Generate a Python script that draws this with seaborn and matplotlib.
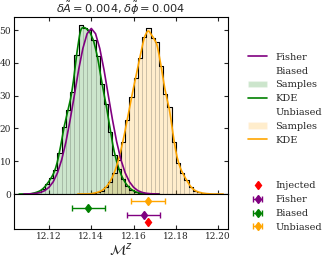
import matplotlib
matplotlib.use("Agg")
import matplotlib.pyplot as plt
import numpy as np
import pandas as pd
import seaborn as sns
from matplotlib.lines import Line2D
from matplotlib.patches import Patch, Rectangle

# histogram bins (width 0.002), heights are densities
bin_width = 0.002
biased_centers = np.round(12.113 + bin_width * np.arange(27), 3)
biased_heights = [0.3, 0.7, 1.4, 3.0, 4.8, 7.2, 12.5, 20.5, 25.5, 31.0,
                  42.5, 51.5, 50.5, 50.0, 47.0, 42.0, 33.5, 27.5, 19.0, 12.0,
                  7.5, 4.5, 2.5, 1.3, 0.6, 0.3, 0.1]
unbiased_centers = np.round(12.141 + bin_width * np.arange(28), 3)
unbiased_heights = [0.2, 0.5, 1.0, 2.0, 3.8, 6.5, 10.5, 16.0, 22.5, 29.5,
                    35.5, 41.5, 48.0, 50.5, 47.5, 46.5, 39.0, 30.5, 26.5, 16.0,
                    9.5, 6.5, 4.3, 2.1, 1.0, 0.5, 0.2, 0.1]

# Fisher approximation curve
fisher_x = np.round(12.108 + 0.002 * np.arange(33), 3)
fisher_y = [0.01, 0.04, 0.10, 0.23, 0.50, 1.04, 2.06, 3.76, 6.48, 10.5,
            15.9, 22.7, 30.2, 37.9, 44.4, 48.9, 50.5, 48.9, 44.4, 37.9,
            30.2, 22.7, 15.9, 10.5, 6.48, 3.76, 2.06, 1.04, 0.50, 0.23,
            0.10, 0.04, 0.01]

# point estimates with 1-sigma errors
point_labels = ["Injected", "Fisher", "Biased", "Unbiased"]
point_x = [12.167, 12.1647, 12.1386, 12.1669]
point_err = [None, 0.0080, 0.0079, 0.0079]
point_row = [1, 2, 3, 4]
point_colors = ["red", "purple", "green", "orange"]

sns.set_style("ticks", {"xtick.direction": "in", "ytick.direction": "in"})
plt.rcParams["font.family"] = ["DejaVu Serif"]

fig = plt.figure(figsize=(3.32, 2.57), dpi=100)
ax = fig.add_axes([0.042, 0.245, 0.645, 0.689])
ax2 = fig.add_axes([0.042, 0.109, 0.645, 0.136], sharex=ax)

for centers, heights, col in [(biased_centers, biased_heights, "green"),
                              (unbiased_centers, unbiased_heights, "orange")]:
    df = pd.DataFrame({"x": centers, "w": heights})
    lo = float(centers[0] - bin_width / 2)
    hi = float(centers[-1] + bin_width / 2)
    sns.histplot(data=df, x="x", weights="w", binwidth=bin_width,
                 binrange=(lo, hi), stat="count", color=col, alpha=0.2,
                 linewidth=0.5, ax=ax)
    sns.histplot(data=df, x="x", weights="w", binwidth=bin_width,
                 binrange=(lo, hi), stat="count", element="step", fill=False,
                 color=(0, 0, 0, 0.45), linewidth=0.8, ax=ax)
    sns.kdeplot(data=df, x="x", weights="w", bw_method=0.15, color=col,
                linewidth=1.2, ax=ax)

# soften the inner bar edges
for p in ax.patches:
    if isinstance(p, Rectangle):
        fc = p.get_facecolor()
        p.set_alpha(None)
        p.set_facecolor((fc[0], fc[1], fc[2], 0.2))
        p.set_edgecolor((0.3, 0.3, 0.3, 0.22))
        p.set_linewidth(0.5)

sns.lineplot(x=fisher_x, y=fisher_y, color="purple", linewidth=1.2, ax=ax)

ax.set_xlim(12.1034, 12.2047)
ax.set_ylim(0, 54.0)
ax.set_ylabel("")
ax.set_xlabel("")
ax.set_yticks([0, 10, 20, 30, 40, 50])
ax.set_xticks([12.12, 12.16, 12.20])
ax.tick_params(axis="both", which="both", top=True, right=True, bottom=True,
               labelbottom=False, labelsize=6.5, length=3, width=0.8, pad=2,
               labelfontfamily="DejaVu Serif")
ax.set_title(r"$\delta\tilde{A} = 0.004, \delta\tilde{\phi} = 0.004$",
             fontsize=8.2, pad=1)

handles2 = []
for lab, x, err, row, col in zip(point_labels, point_x, point_err,
                                 point_row, point_colors):
    h = ax2.errorbar([x], [row], xerr=None if err is None else [err],
                     fmt="d", color=col, ms=4.5, capsize=2.5, lw=1.0,
                     label=lab)
    handles2.append(h)

ax2.set_ylim(0, 5)
ax2.set_yticks([])
ax2.set_xticks([12.12, 12.14, 12.16, 12.18, 12.20])
ax2.set_xticklabels(["12.12", "12.14", "12.16", "12.18", "12.20"])
ax2.tick_params(axis="x", labelsize=6.5, length=3, width=0.8, pad=2,
                bottom=True, labelbottom=True, labelfontfamily="DejaVu Serif")
ax2.set_xlabel(r"$\mathcal{M}^z$", fontsize=10, labelpad=0)
ax2.set_xlim(12.1034, 12.2047)

for a in (ax, ax2):
    for s in a.spines.values():
        s.set_linewidth(0.8)
        s.set_color("k")

legend_font = {"family": "DejaVu Serif", "size": 7}
blank = Patch(visible=False)
handles1 = [Line2D([], [], color="purple", lw=1.2), blank,
            Patch(facecolor="green", alpha=0.2),
            Line2D([], [], color="green", lw=1.2), blank,
            Patch(facecolor="orange", alpha=0.2),
            Line2D([], [], color="orange", lw=1.2)]
labels1 = ["Fisher", "Biased", "Samples", "KDE", "Unbiased", "Samples", "KDE"]
fig.legend(handles1, labels1, loc="upper left", bbox_to_anchor=(0.735, 0.81),
           frameon=False, prop=legend_font, handlelength=2.0,
           labelspacing=0.5, borderaxespad=0)
fig.legend(handles2, point_labels, loc="upper left",
           bbox_to_anchor=(0.735, 0.31), frameon=False, prop=legend_font,
           handlelength=2.0, labelspacing=0.5, borderaxespad=0)

fig.savefig("out.png", dpi=100)
